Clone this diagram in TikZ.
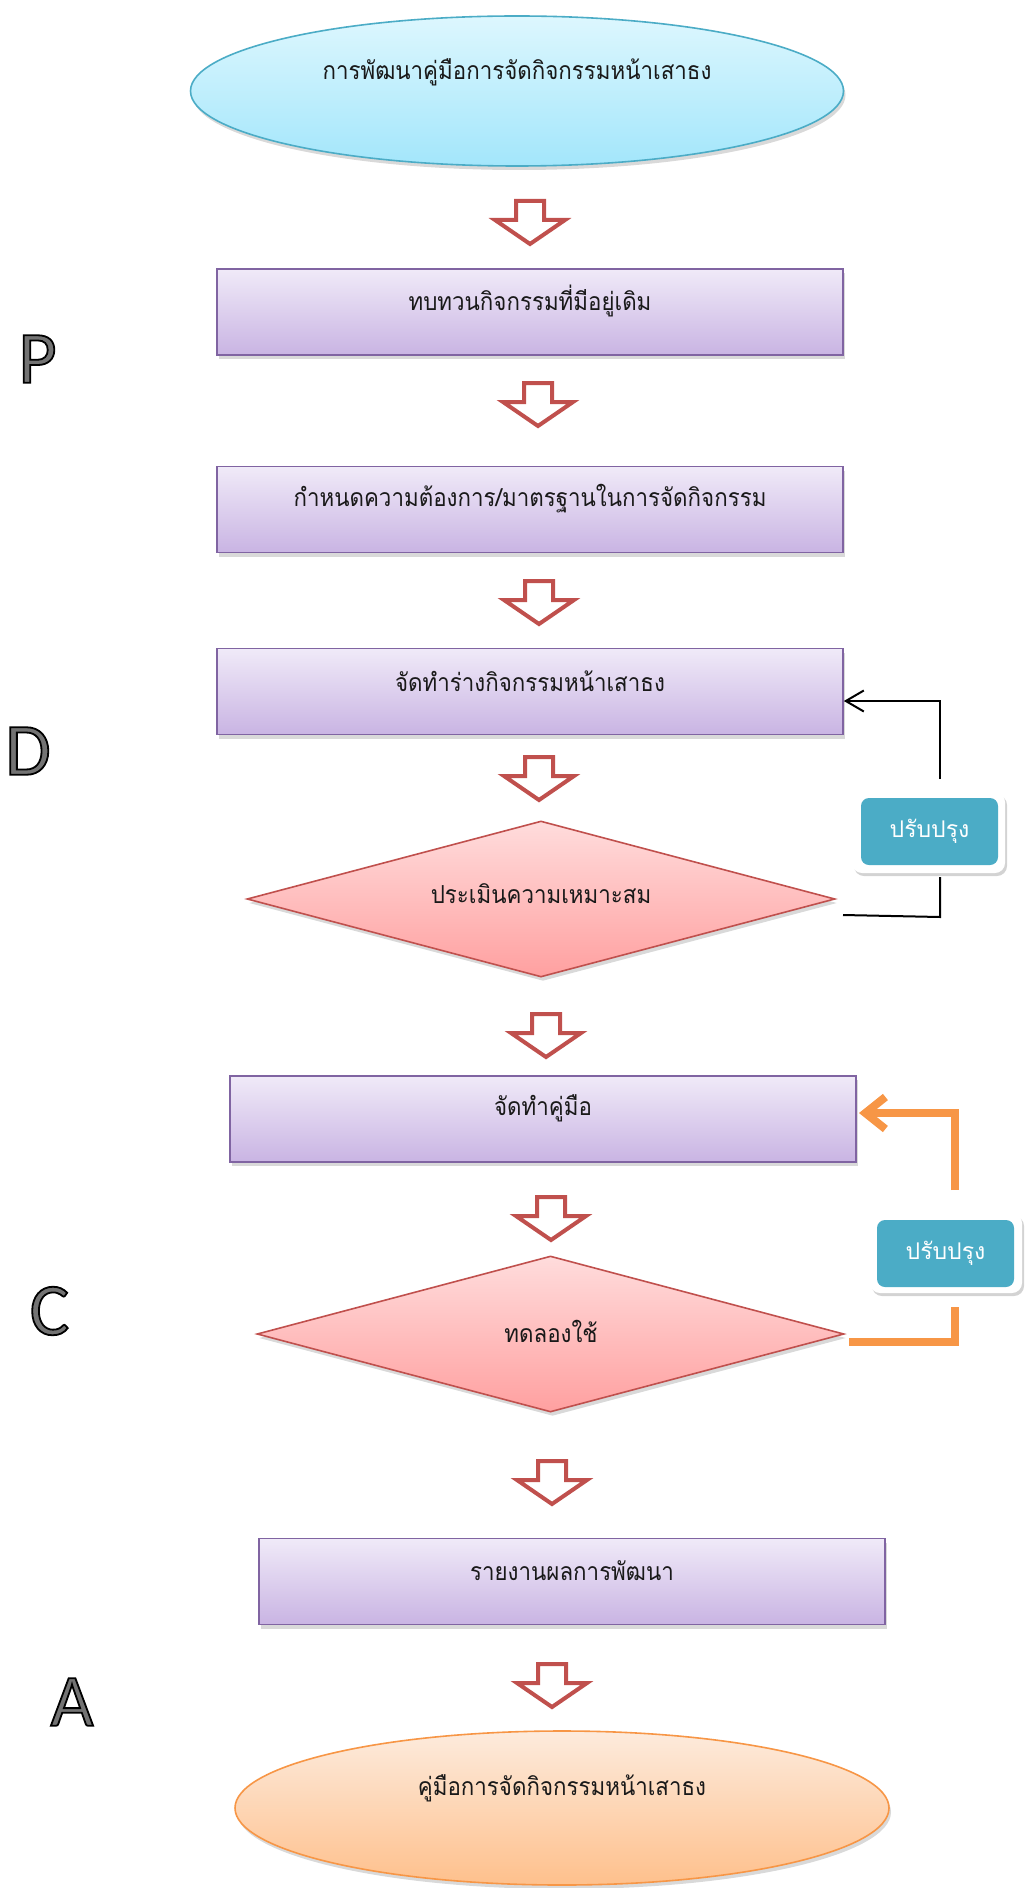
\documentclass[tikz,border=0pt]{standalone}
\usepackage{fontspec}
\setmainfont{Carlito}
\newfontfamily\thai[Script=Thai,FakeStretch=0.9]{Loma}
\newfontfamily\thaiw[Script=Thai]{Loma}
\newfontfamily\latn{Carlito}
\usetikzlibrary{shapes.geometric,shadows,arrows.meta}
\definecolor{cyTop}{HTML}{DDF7FE}
\definecolor{cyBot}{HTML}{A3E6FB}
\definecolor{cyBrd}{HTML}{4BACC6}
\definecolor{puTop}{HTML}{F0EAF8}
\definecolor{puBot}{HTML}{C9B4E3}
\definecolor{puBrd}{HTML}{8064A2}
\definecolor{pkTop}{HTML}{FFDCDC}
\definecolor{pkBot}{HTML}{FFA0A0}
\definecolor{rdBrd}{HTML}{C0504D}
\definecolor{orTop}{HTML}{FDEBDD}
\definecolor{orBot}{HTML}{FEC08C}
\definecolor{orBrd}{HTML}{F79646}
\definecolor{teal}{HTML}{4BACC6}
\newcommand\outl[1]{\special{pdf:literal direct 2 Tr 0.9 w 0 0 0 RG}#1\special{pdf:literal direct 0 Tr}}
\tikzset{
  shd/.style={drop shadow={opacity=0.3,shadow xshift=1pt,shadow yshift=-2pt}},
  ellcyan/.style={ellipse,draw=cyBrd,line width=0.8pt,top color=cyTop,bottom color=cyBot,inner sep=0pt,shd},
  ellorange/.style={ellipse,draw=orBrd,line width=0.8pt,top color=orTop,bottom color=orBot,inner sep=0pt,shd},
  procbox/.style={rectangle,draw=puBrd,line width=0.8pt,top color=puTop,bottom color=puBot,minimum width=313pt,minimum height=43pt,inner sep=0pt,shd},
  decide/.style={diamond,draw=rdBrd,line width=0.8pt,top color=pkTop,bottom color=pkBot,inner sep=0pt,shd},
  thtxt/.style={inner sep=0pt,font=\thai\fontsize{12.4}{14}\selectfont,text=black!90},
  pdca/.style={inner sep=0pt,font=\latn\fontsize{37}{40}\selectfont,text=black!55},
  outerbox/.style={rectangle,rounded corners=5pt,fill=white,inner sep=0pt,drop shadow={opacity=0.35,shadow xshift=1pt,shadow yshift=-1.5pt}},
  tealbox/.style={rectangle,rounded corners=4pt,fill=teal,inner sep=0pt,minimum width=68.5pt,minimum height=33.5pt,text=white,font=\thaiw\fontsize{11.5}{13}\selectfont},
  blockarr/.style={draw=rdBrd,fill=white,line width=2pt,line join=miter},
  fbk/.style={draw=black,line width=1pt},
  fbo/.style={draw=orBrd,line width=4pt,line join=miter},
  downarrow/.pic={\path[blockarr] (-14,2) -- (14,2) -- (14,21) -- (35,21) -- (0,45) -- (-35,21) -- (-14,21) -- cycle;}
}
\begin{document}
\begin{tikzpicture}[x=0.5pt,y=-0.5pt]
\path[use as bounding box] (0,0) rectangle (1025,1888);
% main chain
\node[ellcyan,minimum width=326.5pt,minimum height=75pt] (e1) at (517,91) {};
\node[thtxt] (te1) at (517,72) {การพัฒนาคู่มือการจัดกิจกรรมหน้าเสาธง};
\node[procbox] (b1) at (530,312) {};
\node[thtxt] (tb1) at (530,301) {ทบทวนกิจกรรมที่มีอยู่เดิม};
\node[procbox] (b2) at (530,509.5) {};
\node[thtxt] (tb2) at (530,499) {กำหนดความต้องการ/มาตรฐานในการจัดกิจกรรม};
\node[procbox] (b3) at (530,691.5) {};
\node[thtxt] (tb3) at (530,681) {จัดทำร่างกิจกรรมหน้าเสาธง};
\node[decide,minimum width=294pt,minimum height=78pt] (d1) at (541,899) {};
\node[thtxt] (td1) at (541,894) {ประเมินความเหมาะสม};
\node[procbox] (b4) at (543,1119) {};
\node[thtxt] (tb4) at (543,1108) {จัดทำคู่มือ};
\node[decide,minimum width=293.5pt,minimum height=78pt] (d2) at (550.5,1334) {};
\node[thtxt] (td2) at (551,1331) {ทดลองใช้};
\node[procbox] (b5) at (572,1581.5) {};
\node[thtxt] (tb5) at (572,1571) {รายงานผลการพัฒนา};
\node[ellorange,minimum width=327pt,minimum height=77pt] (e2) at (562,1808) {};
\node[thtxt] (te2) at (562,1788) {คู่มือการจัดกิจกรรมหน้าเสาธง};
% block arrows
\pic at (530,199) {downarrow};
\pic at (538,381) {downarrow};
\pic at (539,579) {downarrow};
\pic at (539,755) {downarrow};
\pic at (546,1012) {downarrow};
\pic at (551,1195) {downarrow};
\pic at (552,1459) {downarrow};
\pic at (552,1662) {downarrow};
% PDCA letters
\node[pdca] (lp) at (37.5,359) {\outl{P}};
\node[pdca] (ld) at (28,751) {\outl{D}};
\node[pdca] (lc) at (49.5,1311) {\outl{C}};
\node[pdca] (la) at (72,1702) {\outl{A}};
% feedback 1
\node[outerbox,minimum width=76.5pt,minimum height=40.5pt] (r1o) at (928.5,832.5) {};
\node[tealbox] (r1) at (929.5,831.5) {ปรับปรุง};
\coordinate (f1a) at (843,915);
\coordinate (f1b) at (940,917);
\coordinate (f1c) at (940,877);
\coordinate (f1d) at (940,779);
\coordinate (f1e) at (940,701);
\draw[fbk] (f1a) -- (f1b) -- (f1c);
\draw[fbk,-{Straight Barb[length=9pt,width=10.5pt]}] (f1d) -- (f1e) -- (b3.east |- f1e);
% feedback 2
\node[outerbox,minimum width=76pt,minimum height=40pt] (r2o) at (946,1253) {};
\node[tealbox] (r2) at (945.5,1253.5) {ปรับปรุง};
\coordinate (f2a) at (849,1342);
\coordinate (f2b) at (955,1342);
\coordinate (f2c) at (955,1307);
\coordinate (f2d) at (955,1190);
\coordinate (f2e) at (955,1113);
\coordinate (f2t) at (859,1113);
\draw[fbo] (f2a) -- (f2b) -- (f2c);
\draw[fbo,-{Straight Barb[length=10pt,width=16pt]}] (f2d) -- (f2e) -- (f2t);
\end{tikzpicture}
\end{document}
